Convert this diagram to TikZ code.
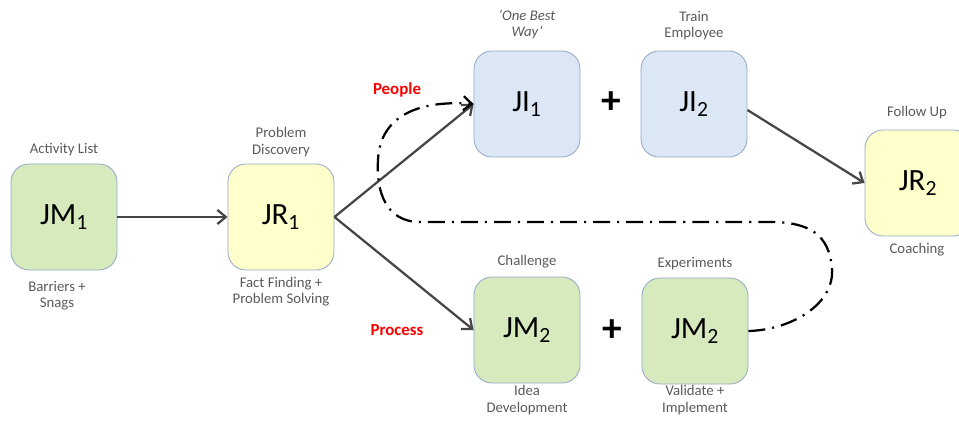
\documentclass[tikz,border=0pt]{standalone}
\usepackage{fontspec}
\setmainfont{Carlito}
\usetikzlibrary{arrows,arrows.meta,positioning}
\usepackage{xcolor}
\definecolor{greenbox}{RGB}{214,234,190}
\definecolor{yellowbox}{RGB}{255,255,204}
\definecolor{bluebox}{RGB}{220,231,245}
\definecolor{boxedge}{RGB}{150,170,200}
\definecolor{notegray}{RGB}{90,90,90}
\definecolor{flowgray}{RGB}{70,70,70}

\begin{document}
\begin{tikzpicture}[x=0.025cm, y=-0.025cm,
    box/.style={
        rectangle,
        rounded corners=0.45cm,
        draw=boxedge,
        line width=0.6pt,
        minimum width=2.65cm,
        minimum height=2.65cm,
        font=\fontsize{22}{22}\selectfont
    },
    note/.style={
        align=center,
        text=notegray,
        font=\fontsize{10.5}{11.5}\selectfont
    },
    path_label/.style={
        text=red,
        font=\fontsize{12}{12}\selectfont\bfseries
    },
    plus/.style={font=\fontsize{28}{28}\selectfont\bfseries},
    flow/.style={-{Straight Barb[length=6pt, width=10pt]}, flowgray, line width=1.6pt}
]
    \useasboundingbox (0,0) rectangle (959,425);

    % boxes
    \node (jm_one) [box, fill=greenbox, shift={(64, 217)}]
    {
        JM\textsubscript{1}
    };
    \node (jr_one) [box, fill=yellowbox, shift={(281, 217)}]
    {
        JR\textsubscript{1}
    };
    \node (ji_one) [box, fill=bluebox, shift={(527, 104)}]
    {
        JI\textsubscript{1}
    };
    \node (ji_two) [box, fill=bluebox, shift={(694, 104)}]
    {
        JI\textsubscript{2}
    };
    \node (jr_two) [box, fill=yellowbox, shift={(918, 183)}]
    {
        JR\textsubscript{2}
    };
    \node (jm_two_idea) [box, fill=greenbox, shift={(527, 330)}]
    {
        JM\textsubscript{2}
    };
    \node (jm_two_test) [box, fill=greenbox, shift={(695, 331)}]
    {
        JM\textsubscript{2}
    };

    % notes
    \node (activity_list) [note, shift={(64, 150)}] {Activity List};
    \node (barriers) [note, shift={(57, 296)}] {Barriers +\\Snags};
    \node (problem_discovery) [note, shift={(281, 142)}] {Problem\\Discovery};
    \node (fact_finding) [note, shift={(281, 292)}] {Fact Finding +\\Problem Solving};
    \node (one_best_way) [note, shift={(527, 24)}] {\itshape `One Best\\\itshape Way'};
    \node (train_employee) [note, shift={(694, 26)}] {Train\\Employee};
    \node (follow_up) [note, shift={(917, 113)}] {Follow Up};
    \node (coaching) [note, shift={(917, 250)}] {Coaching};
    \node (challenge) [note, shift={(527, 262)}] {Challenge};
    \node (idea_development) [note, shift={(527, 400)}] {Idea\\Development};
    \node (experiments) [note, shift={(695, 264)}] {Experiments};
    \node (validate) [note, shift={(695, 400)}] {Validate +\\Implement};

    \node (people) [path_label, shift={(397, 90)}] {People};
    \node (process) [path_label, shift={(397, 330)}] {Process};

    \node (plus_top) [plus, shift={(611, 103)}] {+};
    \node (plus_bottom) [plus, shift={(612, 331)}] {+};

    % flow
    \draw[flow] (jm_one) to (jr_one);
    \draw[flow] (jr_one.east) to (ji_one.west);
    \draw[flow] (jr_one.east) to (jm_two_idea.west);
    \draw[flow] ([yshift=-0.15cm]ji_two.east) to (jr_two.west);

    % feedback loop
    \draw[-{Straight Barb[length=6pt, width=10pt]}, black, line width=1.6pt,
          dash pattern=on 12pt off 5pt on 1.5pt off 5pt]
        (jm_two_test.east) .. controls (790, 330) and (835, 305) .. (832, 268)
        .. controls (829, 235) and (810, 222) .. (770, 222)
        -- (420, 222)
        .. controls (385, 222) and (376, 190) .. (378, 160)
        .. controls (380, 115) and (420, 100) .. (ji_one.west);
\end{tikzpicture}
\end{document}
